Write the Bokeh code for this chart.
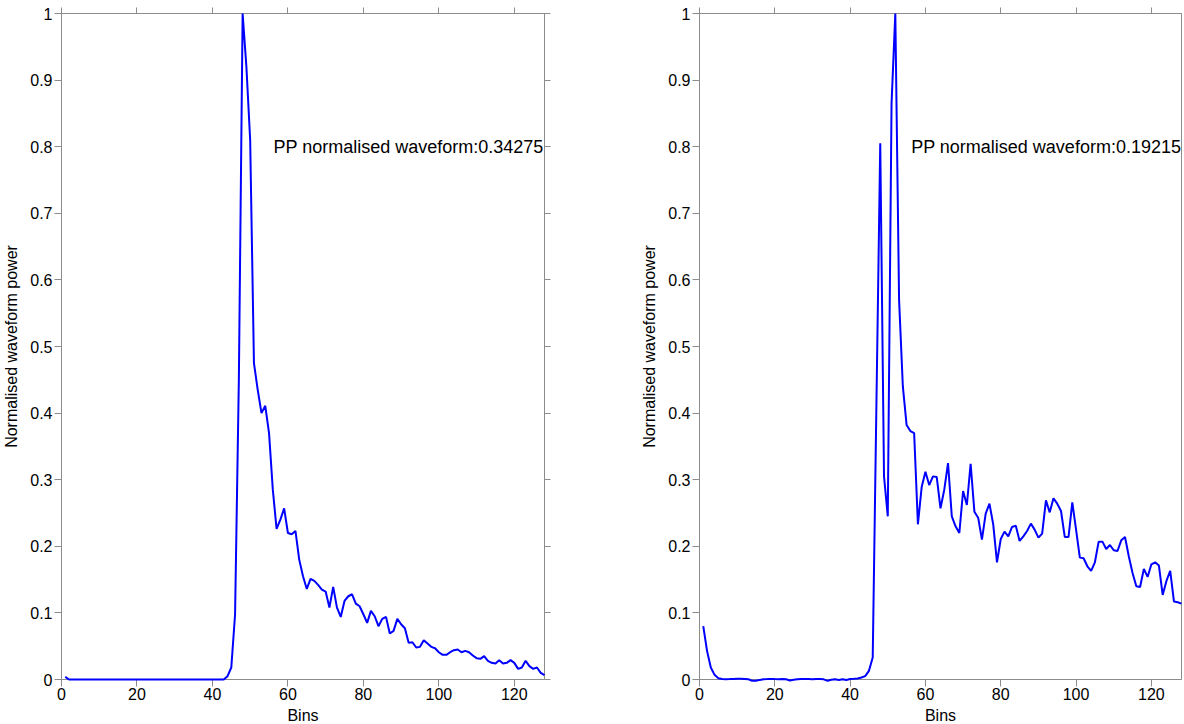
from bokeh.plotting import figure
from bokeh.layouts import row
from bokeh.models import LinearAxis, FixedTicker, CustomJSTickFormatter, Range1d, Label, ColumnDataSource
from bokeh.embed import file_html
from bokeh.resources import INLINE

bins = list(range(1, 129))

left_power = [
    0.004, 0, 0, 0, 0, 0, 0, 0, 0, 0,
    0, 0, 0, 0, 0, 0, 0, 0, 0, 0,
    0, 0, 0, 0, 0, 0, 0, 0, 0, 0,
    0, 0, 0, 0, 0, 0, 0, 0, 0, 0,
    0, 0, 0, 0.005, 0.018, 0.098, 0.45, 1.0, 0.92, 0.81,
    0.475, 0.435, 0.400, 0.411, 0.370, 0.285, 0.226, 0.240, 0.257, 0.220,
    0.218, 0.223, 0.180, 0.155, 0.136, 0.151, 0.148, 0.142, 0.135, 0.132,
    0.108, 0.139, 0.108, 0.094, 0.118, 0.125, 0.128, 0.114, 0.110, 0.098,
    0.085, 0.103, 0.095, 0.080, 0.091, 0.094, 0.069, 0.073, 0.091, 0.083,
    0.077, 0.055, 0.056, 0.048, 0.049, 0.059, 0.054, 0.049, 0.047, 0.041,
    0.037, 0.037, 0.041, 0.044, 0.045, 0.041, 0.043, 0.041, 0.036, 0.032,
    0.031, 0.035, 0.028, 0.025, 0.024, 0.029, 0.024, 0.025, 0.029, 0.025,
    0.016, 0.018, 0.028, 0.020, 0.016, 0.018, 0.010, 0.0065,
]

right_power = [
    0.080, 0.043, 0.018, 0.007, 0.002, 0.0008, 0.0005, 0.0006, 0.0008, 0.001,
    0.001, 0.0008, 0.0003, -0.002, -0.002, -0.0006, 0.0005, 0.0006, 0.0008, 0.0006,
    0.0005, 0.0008, 0.0004, -0.0015, -0.0003, 0.0005, 0.0006, 0.0007, 0.0006, 0.0005,
    0.0007, 0.0006, 0.0002, -0.002, -0.0004, 0.0005, -0.0006, 0.0005, -0.0006, 0.0006,
    0.001, 0.0015, 0.003, 0.005, 0.013, 0.033, 0.42, 0.805, 0.305, 0.245,
    0.865, 1.0, 0.57, 0.44, 0.382, 0.373, 0.370, 0.233, 0.289, 0.312,
    0.292, 0.305, 0.304, 0.257, 0.285, 0.325, 0.245, 0.230, 0.220, 0.283,
    0.262, 0.324, 0.252, 0.243, 0.210, 0.249, 0.264, 0.233, 0.176, 0.211,
    0.222, 0.215, 0.229, 0.231, 0.208, 0.215, 0.223, 0.234, 0.225, 0.213,
    0.219, 0.269, 0.251, 0.272, 0.264, 0.253, 0.214, 0.214, 0.266, 0.225,
    0.183, 0.182, 0.170, 0.163, 0.176, 0.207, 0.207, 0.196, 0.202, 0.194,
    0.193, 0.209, 0.214, 0.185, 0.160, 0.140, 0.139, 0.166, 0.154, 0.173,
    0.176, 0.171, 0.127, 0.148, 0.163, 0.117, 0.116, 0.114,
]

x_ticks = [0, 20, 40, 60, 80, 100, 120]
y_tick_labels = ["0", "0.1", "0.2", "0.3", "0.4", "0.5", "0.6", "0.7", "0.8", "0.9", "1"]
y_ticks = [float(s) for s in y_tick_labels]

left_note = "PP normalised waveform:0.34275"
right_note = "PP normalised waveform:0.19215"
note_x = 56.2
note_y = 0.8

FONT = "Liberation Sans"
GRAY = "#8c8c8c"
BLUE = "#0000ff"


def style_axis(ax, show_labels=True):
    ax.axis_line_color = GRAY
    ax.major_tick_line_color = GRAY
    ax.minor_tick_line_color = None
    ax.major_tick_in = 0
    ax.major_tick_out = 7
    ax.major_label_text_font = FONT
    ax.major_label_text_font_size = "16px"
    ax.major_label_text_color = "black"
    ax.axis_label_text_font = FONT
    ax.axis_label_text_font_size = "16px"
    ax.axis_label_text_font_style = "normal"
    ax.axis_label_text_color = "black"
    if not show_labels:
        ax.major_tick_out = 6
        ax.major_label_text_font_size = "0px"
        ax.major_label_standoff = 0
        ax.formatter = CustomJSTickFormatter(code="return ''")


def make_panel(values, note, border_left, border_right):
    p = figure(
        frame_width=483 if border_right > 20 else 482, frame_height=666,
        x_range=Range1d(0, 128), y_range=Range1d(0, 1),
        output_backend="svg", toolbar_location=None,
        min_border_left=border_left, min_border_right=border_right,
        min_border_top=13, min_border_bottom=54,
        x_axis_label="Bins", y_axis_label="Normalised waveform power",
    )
    p.grid.visible = False
    p.outline_line_color = GRAY
    p.background_fill_color = "white"
    p.border_fill_color = "white"

    p.xaxis.ticker = FixedTicker(ticks=x_ticks)
    p.yaxis.ticker = FixedTicker(ticks=y_ticks)
    p.yaxis.formatter = CustomJSTickFormatter(code="return tick.toString()")
    for ax in p.xaxis:
        style_axis(ax)
        ax.major_label_standoff = 1
        ax.axis_label_standoff = 4
    for ax in p.yaxis:
        style_axis(ax)
        ax.major_label_standoff = 2
        ax.axis_label_standoff = 7

    top = LinearAxis(ticker=FixedTicker(ticks=x_ticks))
    style_axis(top, show_labels=False)
    p.add_layout(top, "above")
    if border_right > 20:
        right = LinearAxis(ticker=FixedTicker(ticks=y_ticks))
        style_axis(right, show_labels=False)
        p.add_layout(right, "right")

    src = ColumnDataSource(data=dict(x=bins, y=values))
    r = p.line("x", "y", source=src, line_color=BLUE, line_width=2)
    r.level = "overlay"

    p.add_layout(Label(x=note_x, y=note_y, text=note, text_baseline="middle",
                       text_align="left", text_font=FONT,
                       text_font_size="18px", text_color="black"))
    return p


p1 = make_panel(left_power, left_note, 59, 53)
p2 = make_panel(right_power, right_note, 102, 1)

layout = row(p1, p2)
open("out.html", "w").write(file_html(layout, INLINE))
